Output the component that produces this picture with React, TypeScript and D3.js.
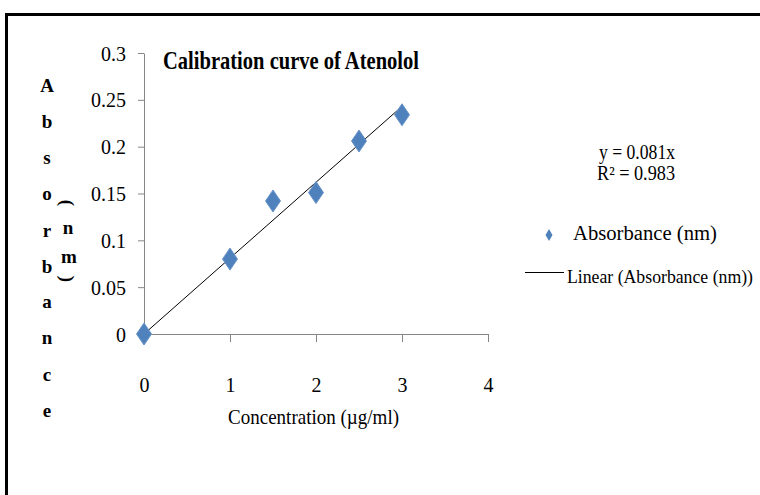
import React, { useEffect, useRef } from 'react'
import { select, scaleLinear, line, axisLeft, axisBottom } from 'd3'

// calibration data
const concentration = [0, 1, 1.5, 2, 2.5, 3]
const absorbance = [0, 0.08, 0.142, 0.151, 0.206, 0.234]
const slope = 0.081
const fitRange = [0, 3]

const xTicks = [0, 1, 2, 3, 4]
const xTickLabels = ['0', '1', '2', '3', '4']
const yTicks = [0, 0.05, 0.1, 0.15, 0.2, 0.25, 0.3]
const yTickLabels = ['0', '0.05', '0.1', '0.15', '0.2', '0.25', '0.3']

const yLabelLetters = ['A', 'b', 's', 'o', 'r', 'b', 'a', 'n', 'c', 'e']
const unitLetters = ['(', 'n', 'm', ')']

const title = 'Calibration curve of Atenolol'
const xTitle = 'Concentration (µg/ml)'
const equation = 'y = 0.081x'
const rSquared = 'R² = 0.983'
const seriesName = 'Absorbance (nm)'
const fitName = 'Linear (Absorbance (nm))'

const FONT = '"Liberation Serif", "Times New Roman", serif'
const BLUE = '#4F81BD'
const AXIS = '#868686'

export default function App() {
  const chart = useRef<SVGSVGElement>(null)

  const width = 760
  const height = 495
  const margin = { top: 53, right: 272, bottom: 161, left: 144 }

  const x = scaleLinear().domain([0, 4]).range([margin.left, width - margin.right])
  const y = scaleLinear().domain([0, 0.3]).range([height - margin.bottom, margin.top])

  const diamond = (w: number, h: number) =>
    `M0,${-h / 2}L${w / 2},0L0,${h / 2}L${-w / 2},0Z`

  useEffect(() => {
    const svg = select(chart.current)
    svg.selectAll('*').remove()

    // outer frame
    svg.append('rect')
      .attr('x', 6.5).attr('y', 14.5)
      .attr('width', 900).attr('height', 700)
      .attr('fill', 'none').attr('stroke', '#000').attr('stroke-width', 3)

    const yAxis = svg.append('g')
      .attr('transform', `translate(${margin.left},0)`)
      .call(axisLeft(y).tickValues(yTicks).tickSize(6).tickSizeOuter(0).tickPadding(12)
        .tickFormat((d, i) => yTickLabels[i]))
      .attr('color', AXIS)
      .attr('font-family', FONT).attr('font-size', 20)
    yAxis.selectAll('text').attr('fill', '#000').attr('dy', 7)

    const xAxis = svg.append('g')
      .attr('transform', `translate(0,${height - margin.bottom})`)
      .call(axisBottom(x).tickValues(xTicks).tickSize(8).tickSizeOuter(0).tickPadding(36)
        .tickFormat((d, i) => xTickLabels[i]))
      .attr('color', AXIS)
      .attr('font-family', FONT).attr('font-size', 20)
    xAxis.selectAll('text').attr('fill', '#000')

    // trend line
    const fit = line<number>().x(d => x(d)).y(d => y(slope * d))
    svg.append('path')
      .datum(fitRange)
      .attr('fill', 'none').attr('stroke', '#000').attr('stroke-width', 1)
      .attr('d', fit)

    // markers
    svg.append('g')
      .selectAll('path')
      .data(concentration)
      .join('path')
      .attr('transform', (d, i) => `translate(${x(d)},${y(absorbance[i])})`)
      .attr('d', diamond(15, 22))
      .attr('fill', BLUE)
      .attr('stroke', '#6a95c9').attr('stroke-width', 1)

    // title
    svg.append('text')
      .attr('x', 163).attr('y', 69)
      .attr('font-family', FONT).attr('font-size', 26).attr('font-weight', 'bold')
      .attr('textLength', 256).attr('lengthAdjust', 'spacingAndGlyphs')
      .text(title)

    // x axis title
    svg.append('text')
      .attr('x', 228).attr('y', 424)
      .attr('font-family', FONT).attr('font-size', 21)
      .attr('textLength', 171).attr('lengthAdjust', 'spacingAndGlyphs')
      .text(xTitle)

    // y axis title, stacked letters
    const letterBase = [92, 128, 164, 200, 237, 273, 308, 344, 381, 417]
    svg.append('g')
      .selectAll('text')
      .data(yLabelLetters)
      .join('text')
      .attr('x', 47).attr('y', (d, i) => letterBase[i])
      .attr('text-anchor', 'middle')
      .attr('font-family', FONT).attr('font-size', 19).attr('font-weight', 'bold')
      .text(d => d)

    const unitPos = [[67, 203], [68, 234], [69, 263], [67, 279]]
    svg.append('g')
      .selectAll('text')
      .data(unitLetters)
      .join('text')
      .attr('transform', (d, i) => {
        const [px, py] = unitPos[i]
        return d === '(' || d === ')' ? `translate(${px},${py}) rotate(90)` : `translate(${px},${py})`
      })
      .attr('text-anchor', 'middle')
      .attr('dominant-baseline', (d) => (d === '(' || d === ')' ? 'central' : 'auto'))
      .attr('font-family', FONT).attr('font-size', 19).attr('font-weight', 'bold')
      .text(d => d)

    // equation
    svg.append('text')
      .attr('x', 599).attr('y', 159)
      .attr('font-family', FONT).attr('font-size', 20)
      .attr('textLength', 76).attr('lengthAdjust', 'spacingAndGlyphs')
      .text(equation)
    svg.append('text')
      .attr('x', 597).attr('y', 180)
      .attr('font-family', FONT).attr('font-size', 20)
      .attr('textLength', 78).attr('lengthAdjust', 'spacingAndGlyphs')
      .text(rSquared)

    // legend
    svg.append('path')
      .attr('transform', 'translate(549,235)')
      .attr('d', diamond(7, 12))
      .attr('fill', BLUE)
    svg.append('text')
      .attr('x', 573).attr('y', 240)
      .attr('font-family', FONT).attr('font-size', 20)
      .attr('textLength', 144).attr('lengthAdjust', 'spacingAndGlyphs')
      .text(seriesName)

    svg.append('line')
      .attr('x1', 525).attr('x2', 564).attr('y1', 272.5).attr('y2', 272.5)
      .attr('stroke', '#000').attr('stroke-width', 1)
    svg.append('text')
      .attr('x', 567).attr('y', 283)
      .attr('font-family', FONT).attr('font-size', 18)
      .attr('textLength', 186).attr('lengthAdjust', 'spacingAndGlyphs')
      .text(fitName)
  }, [])

  return (
    <div style={{ position: 'absolute', left: 0, top: 0 }}>
      <svg ref={chart} width={width} height={height} style={{ display: 'block', background: '#fff' }} />
    </div>
  )
}
